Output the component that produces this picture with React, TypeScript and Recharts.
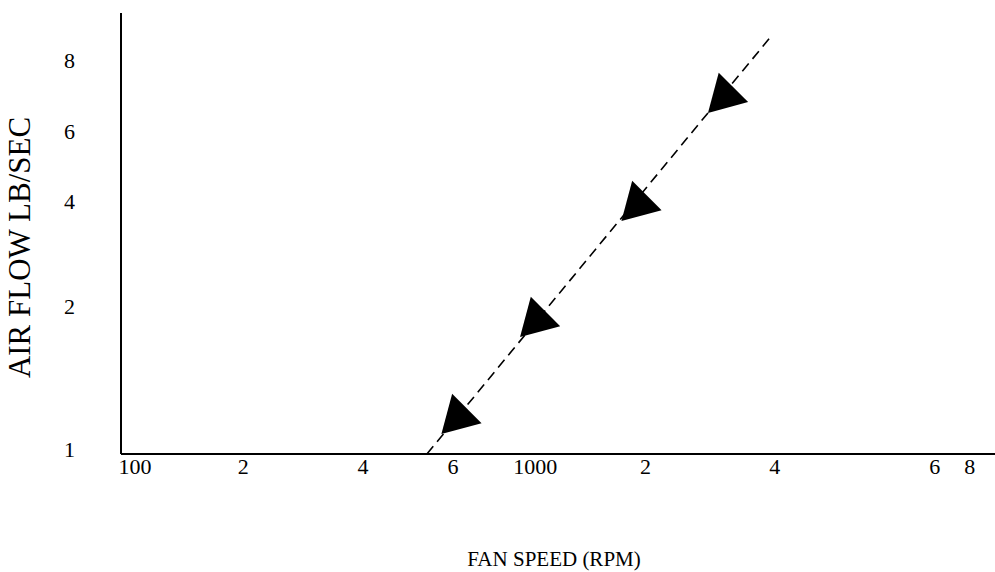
import { Label, Scatter, ScatterChart, XAxis, YAxis } from 'recharts';

// positions are in axis units (0-100 along each axis); the printed scale is not strictly logarithmic
const xTickPos = [1.6, 14.0, 27.7, 38.0, 47.4, 60.0, 74.8, 93.1, 97.1];
const xTickLabels = ['100', '2', '4', '6', '1000', '2', '4', '6', '8'];
const yTickPos = [1.1, 33.6, 57.4, 73.2, 89.3];
const yTickLabels = ['1', '2', '4', '6', '8'];

const measuredX = [38.6, 47.6, 59.2, 69.1];
const measuredY = [8.4, 30.4, 56.7, 81.2];
const fitX = [35.0, 74.5];
const fitY = [0, 95.0];

const points = measuredX.map((x, i) => ({ x, y: measuredY[i] }));
const fitLine = fitX.map((x, i) => ({ x, y: fitY[i] }));

const FONT = '"Liberation Serif", "Times New Roman", serif';

function Triangle(props: any) {
  const { cx, cy } = props;
  const r = 24;
  const pts = [15, 135, 255]
    .map((a) => {
      const t = (a * Math.PI) / 180;
      return `${cx + r * Math.cos(t)},${cy + r * Math.sin(t)}`;
    })
    .join(' ');
  return <polygon points={pts} fill="#000" />;
}

export default function App() {
  return (
    <div style={{ position: 'absolute', left: 0, top: 0, background: '#fff' }}>
      <ScatterChart width={995} height={572} margin={{ top: 13, right: 0, bottom: 0, left: 0 }} style={{ fontFamily: FONT }}>
        <XAxis
          type="number"
          dataKey="x"
          domain={[0, 100]}
          ticks={xTickPos}
          interval={0}
          tickFormatter={(_v: number, i: number) => xTickLabels[i]}
          height={118}
          axisLine={{ stroke: '#000', strokeWidth: 2 }}
          tickLine={false}
          tickSize={0}
          tickMargin={4}
          tick={{ fill: '#000', fontSize: 22, fontFamily: FONT }}
        >
          <Label
            content={({ viewBox }: any) => (
              <text
                x={viewBox.x + viewBox.width / 2 - 4}
                y={viewBox.y + viewBox.height - 13}
                textAnchor="middle"
                dominantBaseline="central"
                fontSize={21}
                fontFamily={FONT}
                fill="#000"
              >
                FAN SPEED (RPM)
              </text>
            )}
          />
        </XAxis>
        <YAxis
          type="number"
          dataKey="y"
          domain={[0, 100]}
          ticks={yTickPos}
          interval={0}
          tickFormatter={(_v: number, i: number) => yTickLabels[i]}
          width={121}
          axisLine={{ stroke: '#000', strokeWidth: 2 }}
          tickLine={false}
          tickSize={0}
          tickMargin={46}
          tick={{ fill: '#000', fontSize: 22, fontFamily: FONT }}
        >
          <Label
            content={({ viewBox }: any) => {
              const cx = 19;
              const cy = viewBox.y + viewBox.height / 2 + 14;
              return (
                <text
                  x={cx}
                  y={cy}
                  transform={`rotate(-90 ${cx} ${cy})`}
                  textAnchor="middle"
                  dominantBaseline="central"
                  fontSize={31}
                  fontFamily={FONT}
                  fill="#000"
                >
                  AIR FLOW LB/SEC
                </text>
              );
            }}
          />
        </YAxis>
        <Scatter
          data={fitLine}
          line={{ stroke: '#000', strokeWidth: 1.6, strokeDasharray: '10 6' }}
          shape={() => <g />}
          isAnimationActive={false}
        />
        <Scatter data={points} shape={Triangle} isAnimationActive={false} />
      </ScatterChart>
    </div>
  );
}
